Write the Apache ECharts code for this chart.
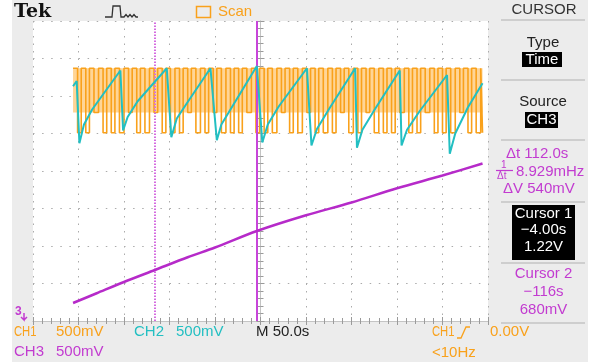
<!DOCTYPE html>
<html>
<head>
<meta charset="utf-8">
<script src="https://cdn.jsdelivr.net/npm/echarts@6.0.0/dist/echarts.min.js"></script>
<style>
  html, body { margin: 0; background: #fff; }
  #chart { width: 600px; height: 364px; }
</style>
</head>
<body>
<div id="chart"></div>
<script>
// time in seconds (50 s/div, 10 div), volts on screen (500 mV/div, 8 div)
const ch1High = 3.37;
const ch1Band = 2.78;
const ch1Rise = [-206, -197, -188, -178, -169, -160, -150, -141, -132, -122, -113, -104, -94, -85, -76, -66, -57, -48, -38, -29, -20, -10, -1, 8, 18, 27, 36, 46, 55, 64, 74, 83, 92, 102, 111, 120, 130, 139, 148, 158, 167, 176, 186, 195, 204, 214, 223, 232, 242];
const ch1Fall = [-201, -192, -183, -173, -164, -155, -145, -136, -127, -117, -108, -99, -89, -80, -71, -61, -52, -43, -33, -24, -15, -5, 4, 13, 23, 32, 41, 51, 60, 69, 79, 88, 97, 107, 116, 125, 135, 144, 153, 163, 172, 181, 191, 200, 209, 219, 228, 237, 244];
const ch1Low = [2.51, 2.51, 2.78, 2.51, 2.51, 2.51, 2.78, 2.51, 2.51, 2.78, 2.51, 2.51, 2.51, 2.78, 2.51, 2.51, 2.78, 2.51, 2.51, 2.51, 2.78, 2.51, 2.51, 2.51, 2.78, 2.51, 2.51, 2.78, 2.51, 2.51, 2.51, 2.78, 2.51, 2.51, 2.78, 2.51, 2.51, 2.51, 2.78, 2.51, 2.51, 2.78, 2.51, 2.51, 2.51, 2.78, 2.51, 2.51, 2.51];

const ch2Time = [-206, -202, -199, -194, -185, -154, -151, -146, -135, -103, -98, -92, -80, -55, -48, -43, -30, -4, 2, 8, 20, 51, 56, 62, 76, 104, 106, 112, 126, 153, 155, 161, 175, 205, 208, 214, 228, 244];
const ch2Volt = [3.13, 3.2, 2.37, 2.62, 2.82, 3.34, 2.54, 2.72, 2.93, 3.37, 2.45, 2.7, 2.92, 3.37, 2.41, 2.62, 2.88, 3.4, 2.38, 2.62, 2.86, 3.37, 2.34, 2.56, 2.84, 3.37, 2.31, 2.55, 2.83, 3.34, 2.34, 2.55, 2.8, 3.28, 2.23, 2.5, 2.85, 3.17];

const ch3Time = [-206, -180, -150, -116, -80, -50, -4, 50, 100, 150, 200, 244];
const ch3Volt = [0.24, 0.37, 0.52, 0.68, 0.85, 0.98, 1.2, 1.41, 1.58, 1.77, 1.94, 2.1];

const cursor1Time = -4;
const cursor2Time = -116;

const ORANGE = '#F9A11B';
const CYAN = '#22BFC2';
const MAGENTA = '#C23BD0';

const ch1Data = [];
ch1Rise.forEach((t, i) => {
  ch1Data.push([t, ch1High]);
  ch1Data.push([ch1Fall[i], ch1Low[i]]);
});
// light envelope behind the CH1 trace: [t start, t end, v low, v high]
const ch1Envelope = [[ch1Rise[0], ch1Fall[ch1Fall.length - 1], ch1Band, ch1High]];
const ch2Data = ch2Time.map((t, i) => [t, ch2Volt[i]]);
const ch3Data = ch3Time.map((t, i) => [t, ch3Volt[i]]);

const chart = echarts.init(document.getElementById('chart'), null, { renderer: 'canvas' });

const tickStyle = { color: '#9a9a9a', width: 1 };
function xAx(pos, split) {
  return {
    type: 'value', min: -250, max: 250, interval: 50, position: pos,
    axisLine: { show: true, lineStyle: { color: '#c4c4c4' } },
    axisTick: { show: true, inside: true, length: 4, lineStyle: tickStyle },
    minorTick: { show: true, splitNumber: 5, length: 3, lineStyle: tickStyle },
    axisLabel: { show: false },
    splitLine: { show: split, lineStyle: { color: '#ababab', type: [1.5, 6] } }
  };
}
function yAx(pos, split) {
  return {
    type: 'value', min: 0, max: 4, interval: 0.5, position: pos,
    axisLine: { show: true, lineStyle: { color: '#c4c4c4' } },
    axisTick: { show: true, inside: true, length: 4, lineStyle: tickStyle },
    minorTick: { show: true, splitNumber: 5, length: 3, lineStyle: tickStyle },
    axisLabel: { show: false },
    splitLine: { show: split, lineStyle: { color: '#ababab', type: [1.5, 7.6] } }
  };
}

function txt(text, x, y, fill, style, extra) {
  return Object.assign({
    type: 'text', z: 100,
    style: Object.assign({
      text: text, x: x, y: y, fill: fill,
      fontFamily: 'Liberation Sans', fontSize: 15,
      textAlign: 'left', textVerticalAlign: 'middle'
    }, style || {})
  }, extra || {});
}
function ctxt(text, x, y, fill) {
  return txt(text, x, y, fill, { textAlign: 'center' });
}
// narrow "CH1" like the scope font
function ch1txt(x, y) {
  return txt('CH1', 0, 0, ORANGE, null, { x: x, y: y, scaleX: 0.75 });
}
function sep(y) {
  return { type: 'line', z: 100, shape: { x1: 501, y1: y, x2: 585, y2: y }, style: { stroke: '#b0b0b0', lineWidth: 1 } };
}
function box(x, y, w, h) {
  return { type: 'rect', z: 99, shape: { x: x, y: y, width: w, height: h }, style: { fill: '#000' } };
}

const graphics = [
  { type: 'rect', z: -10, shape: { x: 12, y: 0, width: 576, height: 362 }, style: { fill: '#ececec' } },
  { type: 'rect', z: -9, shape: { x: 33, y: 21, width: 455, height: 300 }, style: { fill: '#fff' } },
  // header
  txt('Tek', 14, 12, '#111', { fontFamily: 'DejaVu Serif', fontWeight: 'bold', fontSize: 19 }),
  { type: 'polyline', z: 100, shape: { points: [[105, 17], [112, 17], [113, 6], [120, 6], [121, 17], [124, 17], [126, 14.5], [128, 17], [130, 14.5], [132, 17], [134, 14.5], [136, 17], [138, 17]] }, style: { stroke: '#333', lineWidth: 1.3, fill: null } },
  { type: 'rect', z: 100, shape: { x: 196.5, y: 6.5, width: 14, height: 11 }, style: { fill: null, stroke: ORANGE, lineWidth: 1.5 } },
  txt('Scan', 218, 12, ORANGE),
  // right panel
  ctxt('CURSOR', 544, 10, '#333'),
  sep(20),
  ctxt('Type', 543, 43, '#222'),
  box(522, 52, 40, 15),
  ctxt('Time', 542, 60, '#fff'),
  sep(80),
  ctxt('Source', 543, 102, '#222'),
  box(525, 112, 33, 16),
  ctxt('CH3', 541.5, 120, '#fff'),
  sep(140),
  txt('\u0394t 112.0s', 506, 154, MAGENTA),
  txt('1', 501, 165, MAGENTA, { fontSize: 10 }),
  { type: 'line', z: 100, shape: { x1: 496, y1: 170.5, x2: 513, y2: 170.5 }, style: { stroke: MAGENTA, lineWidth: 1.2 } },
  txt('\u0394t', 497, 176, MAGENTA, { fontSize: 10 }),
  txt('8.929mHz', 516, 172, MAGENTA),
  txt('\u0394V 540mV', 503, 189, MAGENTA),
  sep(202),
  box(512, 205, 63, 55),
  ctxt('Cursor 1', 543.5, 214, '#fff'),
  ctxt('\u22124.00s', 543.5, 230, '#fff'),
  ctxt('1.22V', 543.5, 247, '#fff'),
  sep(263),
  ctxt('Cursor 2', 543.5, 274, MAGENTA),
  ctxt('\u2212116s', 543.5, 292, MAGENTA),
  ctxt('680mV', 543.5, 310, MAGENTA),
  sep(323),
  // bottom status
  ch1txt(14, 332),
  txt('500mV', 56, 332, ORANGE),
  txt('CH2', 134, 332, CYAN),
  txt('500mV', 176, 332, CYAN),
  txt('M 50.0s', 256, 332, '#222'),
  ch1txt(432, 332),
  { type: 'polyline', z: 100, shape: { points: [[457, 338], [461, 338], [466, 327], [470, 327]] }, style: { stroke: ORANGE, lineWidth: 1.3, fill: null } },
  txt('0.00V', 490, 332, ORANGE),
  txt('CH3', 14, 352, MAGENTA),
  txt('500mV', 56, 352, MAGENTA),
  txt('<10Hz', 432, 353, ORANGE),
  // CH3 ground marker
  txt('3', 15, 312, MAGENTA, { fontSize: 12, fontWeight: 'bold' }),
  { type: 'polyline', z: 100, shape: { points: [[24, 313], [24, 320], [21, 317], [24, 320], [27, 317]] }, style: { stroke: MAGENTA, lineWidth: 1.5, fill: null } }
];

chart.setOption({
  animation: false,
  backgroundColor: '#fff',
  grid: { left: 33, top: 21, width: 455, height: 300, show: false },
  xAxis: [xAx('bottom', true), xAx('top', false)],
  yAxis: [yAx('left', true), yAx('right', false)],
  graphic: graphics,
  series: [
    {
      name: 'CH1 envelope', type: 'custom', data: ch1Envelope, silent: true, z: 3,
      encode: { x: [0, 1], y: [2, 3] },
      renderItem: function (params, api) {
        const p1 = api.coord([api.value(0), api.value(3)]);
        const p2 = api.coord([api.value(1), api.value(2)]);
        return {
          type: 'rect',
          shape: { x: p1[0], y: p1[1], width: p2[0] - p1[0], height: p2[1] - p1[1] },
          style: { fill: '#FFD596' }
        };
      }
    },
    {
      name: 'CH1', type: 'line', data: ch1Data, step: 'end', showSymbol: false, z: 4,
      lineStyle: { color: ORANGE, width: 1.6 }
    },
    {
      name: 'CH2', type: 'line', data: ch2Data, showSymbol: false, z: 5,
      lineStyle: { color: CYAN, width: 2 }
    },
    {
      name: 'CH3', type: 'line', data: ch3Data, showSymbol: false, smooth: 0.3, z: 6,
      lineStyle: { color: '#B62AC9', width: 2.5 },
      markLine: {
        silent: true, symbol: ['none', 'none'], label: { show: false },
        data: [
          { xAxis: cursor1Time, lineStyle: { color: '#C845DA', type: 'solid', width: 2 } },
          { xAxis: cursor2Time, lineStyle: { color: '#D46BE0', type: [1.5, 1.5], width: 2 } }
        ]
      }
    }
  ]
});
</script>
</body>
</html>
